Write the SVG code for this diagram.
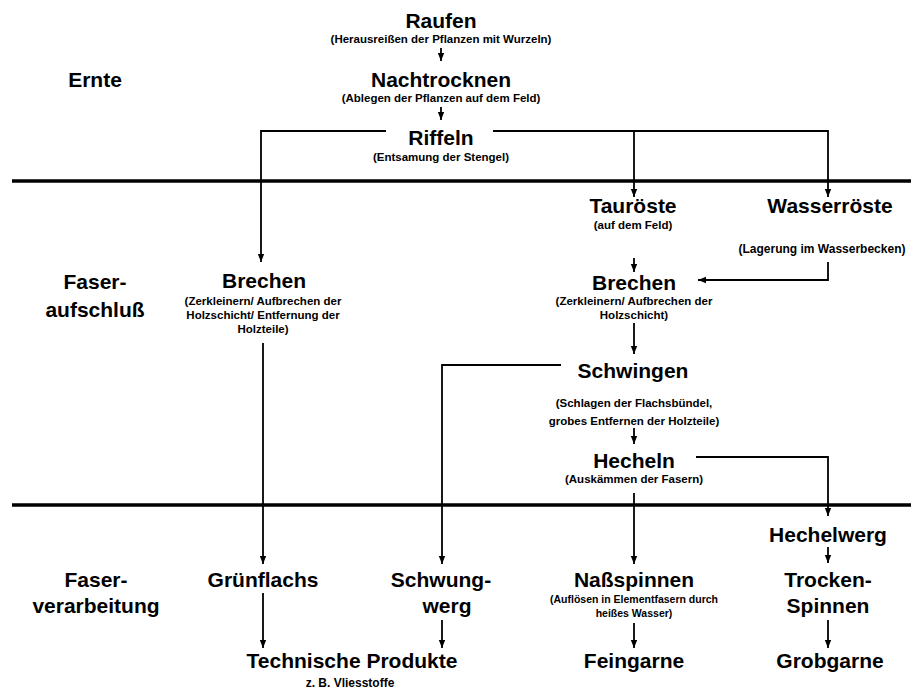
<svg xmlns="http://www.w3.org/2000/svg" width="911" height="691" viewBox="0 0 911 691">
<style>
text{font-family:"Liberation Sans",Arial,sans-serif;font-weight:bold;fill:#000;text-anchor:middle}
.t{font-size:21px}
.s{font-size:11.5px}
.n{font-size:10.5px}
.c{fill:none;stroke:#000;stroke-width:1.8}
.sep{stroke:#000;stroke-width:3.5}
</style>
<defs>
<marker id="a" viewBox="0 0 8 8" refX="8" refY="4" markerWidth="8" markerHeight="8" markerUnits="userSpaceOnUse" orient="auto">
<path d="M0,0.8 L8,4 L0,7.2 z" fill="#000"/>
</marker>
</defs>
<rect width="911" height="691" fill="#fff"/>
<g id="separators">
<line class="sep" x1="12" y1="181" x2="911" y2="181"/>
<line class="sep" x1="12" y1="505" x2="911" y2="505"/>
</g>
<g id="connectors">
<path class="c" d="M441,48 V61" marker-end="url(#a)"/>
<path class="c" d="M441,107 V120" marker-end="url(#a)"/>
<path class="c" d="M386,131 H261 V262" marker-end="url(#a)"/>
<path class="c" d="M493,131 H828 V197" marker-end="url(#a)"/>
<path class="c" d="M634,131 V197" marker-end="url(#a)"/>
<path class="c" d="M634,258 V272" marker-end="url(#a)"/>
<path class="c" d="M828,262 V280 H698" marker-end="url(#a)"/>
<path class="c" d="M634,323 V354" marker-end="url(#a)"/>
<path class="c" d="M561,365 H442 V564" marker-end="url(#a)"/>
<path class="c" d="M634,428 V444" marker-end="url(#a)"/>
<path class="c" d="M696,457 H828 V516" marker-end="url(#a)"/>
<path class="c" d="M634,493 V564" marker-end="url(#a)"/>
<path class="c" d="M263,343 V564" marker-end="url(#a)"/>
<path class="c" d="M828,547 V563" marker-end="url(#a)"/>
<path class="c" d="M263,593 V648" marker-end="url(#a)"/>
<path class="c" d="M442,620 V648" marker-end="url(#a)"/>
<path class="c" d="M634,623 V648" marker-end="url(#a)"/>
<path class="c" d="M828,620 V648" marker-end="url(#a)"/>
</g>
<g id="phase-ernte"><text class="t" x="95" y="87">Ernte</text></g>
<g id="phase-aufschluss"><text class="t" x="95" y="289">Faser-</text><text class="t" x="95" y="317">aufschluß</text></g>
<g id="phase-verarbeitung"><text class="t" x="96" y="587">Faser-</text><text class="t" x="96" y="613">verarbeitung</text></g>
<g id="raufen"><text class="t" x="441" y="28">Raufen</text><text class="s" x="441" y="43">(Herausreißen der Pflanzen mit Wurzeln)</text></g>
<g id="nachtrocknen"><text class="t" x="441" y="87">Nachtrocknen</text><text class="s" x="441" y="102">(Ablegen der Pflanzen auf dem Feld)</text></g>
<g id="riffeln"><text class="t" x="441" y="145">Riffeln</text><text class="s" x="441" y="161">(Entsamung der Stengel)</text></g>
<g id="brechen-links"><text class="t" x="264" y="288">Brechen</text><text class="s" x="263" y="305">(Zerkleinern/ Aufbrechen der</text><text class="s" x="263" y="319">Holzschicht/ Entfernung der</text><text class="s" x="263" y="333">Holzteile)</text></g>
<g id="tauroeste"><text class="t" x="633" y="213">Tauröste</text><text class="s" x="633" y="229">(auf dem Feld)</text></g>
<g id="wasserroeste"><text class="t" x="830" y="213">Wasserröste</text><text class="s" x="822" y="253" style="font-size:12px">(Lagerung im Wasserbecken)</text></g>
<g id="brechen-rechts"><text class="t" x="634" y="290">Brechen</text><text class="s" x="634" y="305">(Zerkleinern/ Aufbrechen der</text><text class="s" x="634" y="319">Holzschicht)</text></g>
<g id="schwingen"><text class="t" x="633" y="378">Schwingen</text><text class="s" x="634" y="407">(Schlagen der Flachsbündel,</text><text class="s" x="634" y="425">grobes Entfernen der Holzteile)</text></g>
<g id="hecheln"><text class="t" x="634" y="468">Hecheln</text><text class="s" x="634" y="483">(Auskämmen der Fasern)</text></g>
<g id="hechelwerg"><text class="t" x="828" y="542">Hechelwerg</text></g>
<g id="gruenflachs"><text class="t" x="263" y="587">Grünflachs</text></g>
<g id="schwungwerg"><text class="t" x="441" y="587">Schwung-</text><text class="t" x="447" y="613">werg</text></g>
<g id="nassspinnen"><text class="t" x="634" y="587">Naßspinnen</text><text class="n" x="634" y="603">(Auflösen in Elementfasern durch</text><text class="n" x="634" y="617">heißes Wasser)</text></g>
<g id="trockenspinnen"><text class="t" x="828" y="587">Trocken-</text><text class="t" x="828" y="613">Spinnen</text></g>
<g id="technische-produkte"><text class="t" x="352" y="668">Technische Produkte</text><text class="s" x="350" y="687" style="font-size:12px">z. B. Vliesstoffe</text></g>
<g id="feingarne"><text class="t" x="634" y="668">Feingarne</text></g>
<g id="grobgarne"><text class="t" x="830" y="668">Grobgarne</text></g>
</svg>
